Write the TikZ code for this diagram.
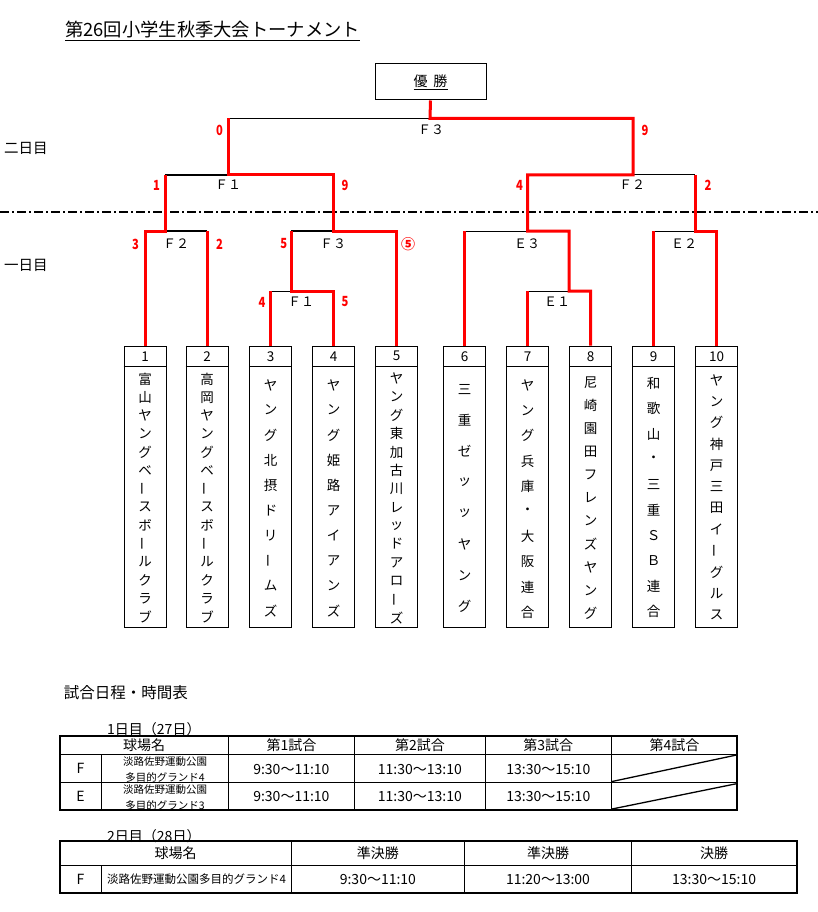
\documentclass[tikz,border=0pt]{standalone}
\usepackage{fontspec}
\setmainfont{Noto Sans CJK JP}
\newcommand\lv{\rotatebox[origin=c]{90}{ー}}
\newcommand\rn[1]{\scalebox{0.8}[1]{#1}}
\newcommand\teamcol[6]{%
  \foreach \ch [count=\i] in {#6}{%
    \pgfmathsetmacro\yy{#3+(\i-1)*(#4-#3)/(#5-1)}%
    \node[tchar] (#1-\i) at (#2,\yy) {\ch};
  }}
\begin{document}
\begin{tikzpicture}[x=1pt,y=-1pt,
  blk/.style={line width=1pt},
  blkthick/.style={line width=1.8pt},
  redl/.style={line width=3pt,red,line join=miter},
  teambox/.style={draw,line width=1pt,minimum width=42pt,minimum height=281pt,inner sep=0pt},
  tchar/.style={inner sep=0pt,font=\fontsize{13.5}{13.5}\selectfont},
  num/.style={inner sep=0pt,font=\fontsize{13.5}{13.5}\selectfont},
  rnum/.style={inner sep=0pt,red,font=\fontsize{14}{14}\selectfont\bfseries},
  glab/.style={inner sep=0pt,font=\fontsize{13}{13}\selectfont},
  tt/.style={inner sep=0pt,font=\fontsize{14}{14}\selectfont},
  smalltxt/.style={inner sep=0pt,font=\fontsize{10.5}{10.5}\selectfont},
]
\useasboundingbox[fill=white] (0,0) rectangle (818,912);

% title
\node[anchor=west,inner sep=0pt,font=\fontsize{18.3}{18.3}\selectfont] (title) at (65,31) {\underline{第26回小学生秋季大会トーナメント}};

% champion box
\node[draw,line width=1pt,minimum width=111pt,minimum height=36pt,inner sep=0pt,font=\fontsize{14}{14}\selectfont] (champ) at (430.5,82) {\underline{優\hspace{6pt}勝}};

% day labels
\node[tt,font=\fontsize{14.5}{14.5}\selectfont] (day2) at (26,148) {二日目};
\node[tt,font=\fontsize{14.5}{14.5}\selectfont] (day1) at (26,265) {一日目};

% dash-dot separator
\coordinate (sepL) at (0,211.7);
\coordinate (sepR) at (818,211.7);
\draw[line width=2pt,dash pattern=on 9pt off 3pt on 2pt off 3pt] (sepL) -- (sepR);

% team boxes
\foreach \n/\x in {1/145,2/207,3/270.5,4/333.5,5/396.5,6/464.5,7/527.5,8/590.5,9/653.5,10/716.5}{
  \node[teambox] (b\n) at (\x,486.5) {};
  \draw[blk] ([yshift=-21.3pt]b\n.north west) -- ([yshift=-21.3pt]b\n.north east);
  \node[num] (n\n) at ([yshift=-10.7pt]b\n.north) {\n};
}

\teamcol{t1}{145}{379}{617}{14}{富,山,ヤ,ン,グ,ベ,\lv,ス,ボ,\lv,ル,ク,ラ,ブ}
\teamcol{t2}{207}{379}{617}{14}{高,岡,ヤ,ン,グ,ベ,\lv,ス,ボ,\lv,ル,ク,ラ,ブ}
\teamcol{t3}{270.5}{385}{611}{10}{ヤ,ン,グ,北,摂,ド,リ,\lv,ム,ズ}
\teamcol{t4}{333.5}{385}{611}{10}{ヤ,ン,グ,姫,路,ア,イ,ア,ン,ズ}
\teamcol{t5}{396.5}{378.3}{617.7}{14}{ヤ,ン,グ,東,加,古,川,レ,ッ,ド,ア,ロ,\lv,ズ}
\teamcol{t6}{464.5}{389.3}{606.7}{8}{三,重,ゼ,ッ,ッ,ヤ,ン,グ}
\teamcol{t7}{527.5}{385}{612.7}{10}{ヤ,ン,グ,兵,庫,・,大,阪,連,合}
\teamcol{t8}{590.5}{382.7}{613.3}{11}{尼,崎,園,田,フ,レ,ン,ズ,ヤ,ン,グ}
\teamcol{t9}{653.5}{383.3}{611.7}{10}{和,歌,山,・,三,重,Ｓ,Ｂ,連,合}
\teamcol{t10}{716.5}{380}{615}{12}{ヤ,ン,グ,神,戸,三,田,イ,\lv,グ,ル,ス}

% black bracket lines
\draw[blk] (228,118.5) -- (430,118.5);
\draw[blkthick] (165,175) -- (228,175);
\draw[blk] (633,175) -- (695,175);
\draw[blkthick] (165,231) -- (207,231);
\draw[blkthick] (291,231) -- (333.5,231);
\draw[blk] (464.5,231) -- (527.5,231);
\draw[blk] (653.5,231) -- (695,231);
\draw[blk] (270.5,291) -- (291,291);
\draw[blk] (527.5,291) -- (569,291);

% red bracket lines
\draw[redl] (b8.north) -- (590.5,291) -- (569,291) -- (569,231) -- (527.5,231) -- (527.5,175) -- (633,175) -- (633,118.5) -- (430,118.5) -- (champ.south);
\draw[redl] (b1.north) -- (145,231) -- (165,231) -- (165,175);
\draw[redl] (b2.north) -- (207,231);
\draw[redl] (b3.north) -- (270.5,291);
\draw[redl] (b4.north) -- (333.5,291) -- (291,291) -- (291,231);
\draw[redl] (b5.north) -- (396.5,231) -- (333.5,231) -- (333.5,175) -- (228,175) -- (228,118.5);
\draw[redl] (b6.north) -- (464.5,231);
\draw[redl] (b7.north) -- (527.5,291);
\draw[redl] (b9.north) -- (653.5,231);
\draw[redl] (b10.north) -- (716.5,231) -- (695,231) -- (695,175);

% game labels
\node[glab] (gF3a) at (431,130) {Ｆ３};
\node[glab] (gF1a) at (228,185) {Ｆ１};
\node[glab] (gF2a) at (632,185) {Ｆ２};
\node[glab] (gF2b) at (176,244) {Ｆ２};
\node[glab] (gF3b) at (333,244) {Ｆ３};
\node[glab] (gE3) at (527,244) {Ｅ３};
\node[glab] (gE2) at (684,244) {Ｅ２};
\node[glab] (gF1b) at (301,302) {Ｆ１};
\node[glab] (gE1) at (557,302) {Ｅ１};

% scores
\node[rnum] (s1) at (219.6,130) {\rn{0}};
\node[rnum] (s2) at (645,130) {\rn{9}};
\node[rnum] (s3) at (156.5,185) {\rn{1}};
\node[rnum] (s4) at (345,185) {\rn{9}};
\node[rnum] (s5) at (519.6,185) {\rn{4}};
\node[rnum] (s6) at (708,185) {\rn{2}};
\node[rnum] (s7) at (135.6,244) {\rn{3}};
\node[rnum] (s8) at (219.6,244) {\rn{2}};
\node[rnum] (s9) at (283.8,244) {\rn{5}};
\node[rnum] (s10) at (408,244) {⑤};
\node[rnum] (s11) at (262,302) {\rn{4}};
\node[rnum] (s12) at (345,302) {\rn{5}};

% schedule
\node[tt,anchor=west,font=\fontsize{15.5}{15.5}\selectfont] (sched) at (63.6,692.7) {試合日程・時間表};
\node[tt,anchor=west] (d1) at (107,729) {1日目（27日）};

% table 1
\draw[line width=2pt] (59.7,735.7) rectangle (737.4,810);
\draw[blk] (59.7,754) -- (737.4,754);
\draw[blk] (59.7,782.7) -- (737.4,782.7);
\draw[blk] (101.9,754) -- (101.9,810);
\foreach \x in {228.4,354.4,485.3,611.3}{\draw[blk] (\x,735.7) -- (\x,810);}
\draw[line width=1.3pt] (612,781.5) -- (736.5,755);
\draw[line width=1.3pt] (612,809) -- (736.5,783.7);
\node[tt] (h1) at (144,745) {球場名};
\node[tt] (h2) at (291.4,745) {第1試合};
\node[tt] (h3) at (419.9,745) {第2試合};
\node[tt] (h4) at (548.3,745) {第3試合};
\node[tt] (h5) at (674.4,745) {第4試合};
\node[tt] (rF) at (80.5,768.3) {F};
\node[smalltxt] (vF1) at (165,761.5) {淡路佐野運動公園};
\node[smalltxt] (vF2) at (165,777) {多目的グランド4};
\node[tt] (tF1) at (291.4,769) {9:30～11:10};
\node[tt] (tF2) at (419.9,769) {11:30～13:10};
\node[tt] (tF3) at (548.3,769) {13:30～15:10};
\node[tt] (rE) at (80.5,796.4) {E};
\node[smalltxt] (vE1) at (165,789.5) {淡路佐野運動公園};
\node[smalltxt] (vE2) at (165,805) {多目的グランド3};
\node[tt] (tE1) at (291.4,796.7) {9:30～11:10};
\node[tt] (tE2) at (419.9,796.7) {11:30～13:10};
\node[tt] (tE3) at (548.3,796.7) {13:30～15:10};

% table 2
\node[tt,anchor=west] (d2) at (107,835.7) {2日目（28日）};
\draw[line width=2pt] (59.7,841) rectangle (796.5,892.7);
\draw[blk] (59.7,865) -- (796.5,865);
\draw[blk] (101.9,865) -- (101.9,892.7);
\foreach \x in {291.4,464.4,631.7}{\draw[blk] (\x,841) -- (\x,892.7);}
\node[tt] (k1) at (175.5,853) {球場名};
\node[tt] (k2) at (377.9,853) {準決勝};
\node[tt] (k3) at (548,853) {準決勝};
\node[tt] (k4) at (714.1,853) {決勝};
\node[tt] (kF) at (80.5,879) {F};
\node[smalltxt,font=\fontsize{11.5}{11.5}\selectfont] (kV) at (196.6,879) {淡路佐野運動公園多目的グランド4};
\node[tt] (kT1) at (377.9,879) {9:30～11:10};
\node[tt] (kT2) at (548,879) {11:20～13:00};
\node[tt] (kT3) at (714.1,879) {13:30～15:10};
\end{tikzpicture}
\end{document}
